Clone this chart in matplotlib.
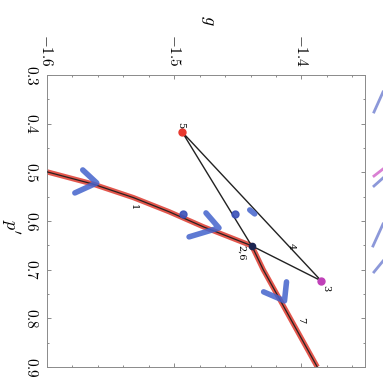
"""Redraw the rotated p'-g trajectory plot."""

import matplotlib
matplotlib.use('Agg')
import matplotlib.pyplot as plt
from matplotlib.lines import Line2D
from matplotlib.ticker import MultipleLocator

# red equilibrium curve (g, p')
curve_g = [-1.600, -1.564, -1.532, -1.504, -1.477, -1.439, -1.430, -1.3875]
curve_p = [0.499, 0.524, 0.552, 0.581, 0.612, 0.651, 0.700, 0.900]

# labelled points of the black path
pt5 = (-1.4938, 0.417)
pt3 = (-1.3844, 0.723)
node = (-1.4391, 0.651)

# text labels: (text, g, p')
labels = [('1', -1.532, 0.571), ('2,6', -1.447, 0.666), ('3', -1.381, 0.738),
          ('4', -1.408, 0.652), ('5', -1.4950, 0.402), ('7', -1.401, 0.803)]

# blue pen marks drawn on the scan
pen_strokes = [
    ([-1.5719, -1.5609, -1.5781], [0.4951, 0.5218, 0.5423]),
    ([-1.475, -1.4648, -1.4883], [0.5834, 0.6142, 0.6326]),
    ([-1.4406, -1.4367], [0.5772, 0.5854]),
    ([-1.4297, -1.4133, -1.4117], [0.7456, 0.7641, 0.7251])]
pen_dots_g = [-1.4930, -1.4523]
pen_dots_p = [0.5854, 0.5854]

# pen marks bleeding in at the right page edge (figure pixels, y from top)
edge_strokes = [
    ([374, 383], [112, 92], '#6f7fd0'),
    ([374, 383], [176, 169], '#d060c8'),
    ([374, 383], [186, 178], '#6f7fd0'),
    ([373, 383], [246, 224], '#6f7fd0'),
    ([374, 383], [272, 261], '#6f7fd0')]

g_ticks = [-1.6, -1.5, -1.4]
p_ticks = [0.3, 0.4, 0.5, 0.6, 0.7, 0.8, 0.9]


def main():
    plt.rcParams['mathtext.fontset'] = 'cm'
    plt.rcParams['font.family'] = 'serif'
    plt.rcParams['font.serif'] = ['DejaVu Serif']

    fig = plt.figure(figsize=(3.83, 3.83), dpi=100)
    ax = fig.add_axes([47/383, 1-367/383, 318/383, 292/383])

    # red curve with black line on top
    ax.plot(curve_g, curve_p, color='#e0453a', lw=3.8, alpha=0.9,
            solid_capstyle='butt', zorder=2)
    ax.plot(curve_g, curve_p, color='#2a2020', lw=0.9, zorder=3)

    # black excursion 2 -> 3 -> 4 -> 5 -> 6
    ax.plot([node[0], pt3[0], pt5[0], node[0]],
            [node[1], pt3[1], pt5[1], node[1]],
            color='#222222', lw=1.0, zorder=3)

    # coloured points
    ax.plot(*pt5, 'o', color='#e8382e', ms=5, zorder=4)
    ax.plot(*pt3, 'o', color='#c040b8', ms=5, zorder=4)
    ax.plot(*node, 'o', color='#1c2450', ms=4.5, zorder=4)

    # pen marks
    for sg, sp in pen_strokes:
        ax.plot(sg, sp, color='#4363cc', lw=4, alpha=0.85,
                solid_capstyle='round', solid_joinstyle='round', zorder=5)
    ax.plot(pen_dots_g, pen_dots_p, 'o', color='#3a50b8', ms=5, alpha=0.9,
            zorder=5)
    for xs, ys, c in edge_strokes:
        fig.add_artist(Line2D([x/383 for x in xs], [1-y/383 for y in ys],
                              color=c, lw=2, alpha=0.8))

    for text, g, p in labels:
        ax.text(g, p, text, rotation=-90, fontsize=7, ha='center',
                va='center', zorder=6)

    # axes properties
    ax.set_xlim(-1.6, -1.35)
    ax.set_ylim(0.9, 0.3)
    ax.xaxis.tick_top()
    ax.set_xticks(g_ticks)
    ax.set_xticklabels([f'${t:.1f}$' for t in g_ticks],
                       rotation=-90, fontsize=11)
    ax.set_yticks(p_ticks)
    ax.set_yticklabels([f'${t:.1f}$' for t in p_ticks], rotation=-90,
                       fontsize=11, va='center')
    ax.xaxis.set_minor_locator(MultipleLocator(0.02))
    ax.yaxis.set_minor_locator(MultipleLocator(0.05))
    ax.tick_params(which='both', direction='in', top=True, bottom=True,
                   left=True, right=True, color='#777777', width=0.6)
    ax.tick_params(which='major', length=3, pad=6)
    ax.tick_params(which='minor', length=1.5)
    for spine in ax.spines.values():
        spine.set_color('#8a8a8a')
        spine.set_linewidth(0.7)
        spine.set_linestyle((0, (2, 1)))

    fig.text(208/383, 1-20/383, '$g$', rotation=-90, fontsize=13,
             ha='center', va='center')
    fig.text(10/383, 1-227/383, "$p'$", rotation=-90, fontsize=13,
             ha='center', va='center')

    fig.savefig('out.png', dpi=100)


if __name__ == '__main__':
    main()
